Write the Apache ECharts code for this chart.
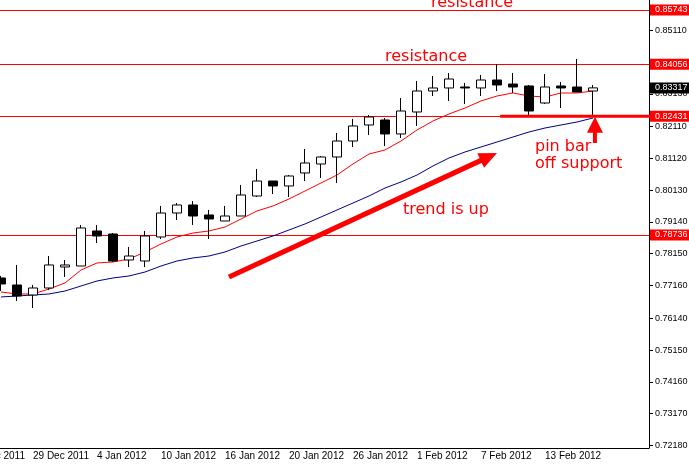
<!DOCTYPE html>
<html>
<head>
<meta charset="utf-8">
<title>EURUSD daily - pin bar off support</title>
<script src="https://cdn.jsdelivr.net/npm/echarts@6/dist/echarts.min.js"></script>
<style>
  html, body { margin: 0; padding: 0; background: #fff; }
  #main { width: 689px; height: 466px; }
</style>
</head>
<body>
<div id="main"></div>
<script>
// two days before the first visible bar (only their date label peeks in)
var leadDates = ['23 Dec 2011', '26 Dec 2011'];

var dates = ['27 Dec 2011', '28 Dec 2011', '29 Dec 2011', '30 Dec 2011', '2 Jan 2012', '3 Jan 2012',
  '4 Jan 2012', '5 Jan 2012', '6 Jan 2012', '9 Jan 2012', '10 Jan 2012', '11 Jan 2012', '12 Jan 2012',
  '13 Jan 2012', '16 Jan 2012', '17 Jan 2012', '18 Jan 2012', '19 Jan 2012', '20 Jan 2012', '23 Jan 2012',
  '24 Jan 2012', '25 Jan 2012', '26 Jan 2012', '27 Jan 2012', '30 Jan 2012', '31 Jan 2012', '1 Feb 2012',
  '2 Feb 2012', '3 Feb 2012', '6 Feb 2012', '7 Feb 2012', '8 Feb 2012', '9 Feb 2012', '10 Feb 2012',
  '13 Feb 2012', '14 Feb 2012', '15 Feb 2012', '16 Feb 2012'];

var opens = [0.77395, 0.77176, 0.76865, 0.77083, 0.77737, 0.77768, 0.78859, 0.78765, 0.77955, 0.77924,
  0.78672, 0.79419, 0.79669, 0.79357, 0.79170, 0.79326, 0.79949, 0.80416, 0.80261, 0.80666,
  0.80946, 0.81164, 0.81662, 0.82161, 0.82317, 0.81881, 0.82566, 0.83220, 0.83314, 0.83345,
  0.83314, 0.83563, 0.83438, 0.83376, 0.82846, 0.83376, 0.83345, 0.83220];
var closes = [0.77208, 0.76834, 0.77083, 0.77800, 0.77800, 0.78952, 0.78703, 0.77924, 0.78080, 0.78703,
  0.79419, 0.79669, 0.79326, 0.79233, 0.79326, 0.79980, 0.80416, 0.80261, 0.80572, 0.80977,
  0.81164, 0.81662, 0.82130, 0.82410, 0.81881, 0.82597, 0.83220, 0.83314, 0.83594, 0.83314,
  0.83563, 0.83407, 0.83345, 0.82597, 0.83345, 0.83314, 0.83189, 0.83317];
var lows = [0.76989, 0.76678, 0.76460, 0.77021, 0.77426, 0.77768, 0.78485, 0.77893, 0.77737, 0.77737,
  0.78609, 0.79201, 0.79046, 0.78609, 0.79170, 0.79326, 0.79918, 0.80011, 0.79918, 0.80416,
  0.80510, 0.80354, 0.81476, 0.81849, 0.81507, 0.81756, 0.82130, 0.83064, 0.82909, 0.82815,
  0.83064, 0.83220, 0.83158, 0.82472, 0.82815, 0.82691, 0.83189, 0.82440];
var highs = [0.77457, 0.77800, 0.77176, 0.78080, 0.77955, 0.79046, 0.79046, 0.78796, 0.78360, 0.78859,
  0.79638, 0.79731, 0.79793, 0.79513, 0.79638, 0.80292, 0.80790, 0.80416, 0.80603, 0.81413,
  0.81195, 0.81912, 0.82348, 0.82472, 0.82379, 0.83002, 0.83532, 0.83687, 0.83781, 0.83469,
  0.83719, 0.84056, 0.83781, 0.83407, 0.83750, 0.83500, 0.84217, 0.83407];

// moving averages as drawn on the chart
var maFast = [0.76958, 0.76896, 0.76896, 0.77052, 0.77239, 0.77644, 0.77862, 0.77893, 0.77986, 0.78204,
  0.78454, 0.78672, 0.78796, 0.78859, 0.78983, 0.79233, 0.79482, 0.79638, 0.79856, 0.80105,
  0.80354, 0.80603, 0.80946, 0.81257, 0.81382, 0.81662, 0.82005, 0.82286, 0.82504, 0.82691,
  0.82909, 0.83064, 0.83158, 0.83064, 0.83033, 0.83158, 0.83158, 0.83220];
var maSlow = [0.76803, 0.76834, 0.76865, 0.76896, 0.76989, 0.77145, 0.77301, 0.77395, 0.77457, 0.77581,
  0.77768, 0.77924, 0.78018, 0.78080, 0.78204, 0.78391, 0.78547, 0.78703, 0.78890, 0.79077,
  0.79295, 0.79513, 0.79731, 0.79949, 0.80198, 0.80385, 0.80603, 0.80884, 0.81133, 0.81320,
  0.81476, 0.81631, 0.81787, 0.81943, 0.82067, 0.82161, 0.82254, 0.82379];

// horizontal support / resistance levels
var levels = [0.85743, 0.84056, 0.82431, 0.78736];

// price scale labels
var yTicks = [0.72180, 0.73170, 0.74160, 0.75150, 0.76140, 0.77160, 0.78150, 0.79140,
  0.80130, 0.81120, 0.82110, 0.83130, 0.84120, 0.85110];
var yMin = 0.72098, yMax = 0.86055;

var tail = ['', '', ''];
var categories = leadDates.concat(dates, tail);
var off = leadDates.length;

function pad(arr) {
  return leadDates.map(function () { return '-'; }).concat(arr);
}
var candles = dates.map(function (d, i) {
  return [opens[i], closes[i], lows[i], highs[i]];
});
var lastPrice = closes[closes.length - 1];

function showLabel(index, value) {
  return index % 4 === 0 && value !== '';
}

var red = '#ff0000';
var navy = '#000080';

var chart = echarts.init(document.getElementById('main'));

var option = {
  animation: false,
  backgroundColor: '#ffffff',
  textStyle: { fontFamily: '"Liberation Sans", Arial, sans-serif' },
  grid: { left: -39, right: 40, top: 0, bottom: 18, outerBoundsMode: 'none', containLabel: false },
  xAxis: {
    type: 'category',
    data: categories,
    boundaryGap: true,
    axisLine: { onZero: false, lineStyle: { color: '#000', width: 1 } },
    axisTick: { interval: showLabel, alignWithLabel: true, length: 4, lineStyle: { color: '#000' } },
    axisLabel: { interval: showLabel, align: 'left', margin: 3, fontSize: 10, color: '#000' },
    splitLine: { show: false }
  },
  yAxis: {
    type: 'value',
    position: 'right',
    min: yMin,
    max: yMax,
    axisLine: { show: true, lineStyle: { color: '#000', width: 1 } },
    axisTick: { show: true, customValues: yTicks, length: 4, lineStyle: { color: '#000' } },
    axisLabel: {
      customValues: yTicks,
      formatter: function (v) { return Number(v).toFixed(5); },
      margin: 6, fontSize: 9, color: '#000'
    },
    splitLine: { show: false }
  },
  series: [
    {
      type: 'candlestick',
      data: pad(candles),
      barWidth: 9,
      z: 3,
      silent: true,
      itemStyle: {
        color: '#ffffff', color0: '#000000',
        borderColor: '#000000', borderColor0: '#000000', borderWidth: 1
      },
      emphasis: { disabled: true },
      markLine: {
        z: 1,
        silent: true,
        animation: false,
        precision: 5,
        symbol: ['none', 'none'],
        lineStyle: { color: red, width: 1, type: 'solid' },
        label: {
          position: 'end', distance: 1,
          formatter: function (p) { return Number(p.value).toFixed(5); },
          color: '#fff', backgroundColor: red, fontSize: 9, lineHeight: 11,
          padding: [0, 3, 0, 5]
        },
        emphasis: { disabled: true },
        data: levels.map(function (v) { return { yAxis: v }; }).concat([{
          // last price tag: no line, black box
          yAxis: lastPrice,
          lineStyle: { color: 'rgba(0,0,0,0)', width: 0 },
          label: { backgroundColor: '#000', color: '#fff' }
        }])
      }
    },
    {
      type: 'line',
      data: pad(maFast),
      symbol: 'none',
      z: 2,
      silent: true,
      lineStyle: { color: red, width: 1 }
    },
    {
      type: 'line',
      data: pad(maSlow),
      symbol: 'none',
      z: 2,
      silent: true,
      lineStyle: { color: navy, width: 1 }
    }
  ]
};
chart.setOption(option);

// position helper: bar index (fractional allowed) + price -> pixel
function pt(bar, price) {
  var a = chart.convertToPixel({ gridIndex: 0 }, [off, price]);
  var b = chart.convertToPixel({ gridIndex: 0 }, [off + 1, price]);
  return [a[0] + (b[0] - a[0]) * bar, a[1]];
}

function arrow(from, to, width, headLen, headHalf) {
  var dx = to[0] - from[0], dy = to[1] - from[1];
  var len = Math.sqrt(dx * dx + dy * dy);
  var ux = dx / len, uy = dy / len;
  var bx = to[0] - ux * headLen, by = to[1] - uy * headLen;
  return [
    {
      type: 'line', z: 20, silent: true,
      shape: { x1: from[0], y1: from[1], x2: bx + ux, y2: by + uy },
      style: { stroke: red, lineWidth: width }
    },
    {
      type: 'polygon', z: 20, silent: true,
      shape: { points: [to, [bx - uy * headHalf, by + ux * headHalf], [bx + uy * headHalf, by - ux * headHalf]] },
      style: { fill: red }
    }
  ];
}

function label(text, bar, price) {
  var p = pt(bar, price);
  return {
    type: 'text', z: 20, silent: true,
    style: {
      text: text, x: p[0], y: p[1] - 5,
      fill: red, font: '16px "DejaVu Sans"',
      align: 'left', verticalAlign: 'middle'
    }
  };
}

var sup = levels[2];
var g = [];
// thicker support segment under the last bars
var s1 = pt(31.2, sup), s2 = pt(40.6, sup);
g.push({
  type: 'line', z: 19, silent: true,
  shape: { x1: s1[0], y1: s1[1], x2: s2[0], y2: s2[1] },
  style: { stroke: red, lineWidth: 3 }
});
g = g.concat(arrow(pt(14.25, 0.77426), pt(31.0, 0.81289), 5, 18, 8));
g = g.concat(arrow(pt(37.12, 0.81600), pt(37.12, 0.82420), 4, 16, 8));
g.push(label('resistance', 26.875, 0.85806));
g.push(label('resistance', 24.0, 0.84124));
g.push(label('trend is up', 25.125, 0.79357));
g.push(label('pin bar', 33.375, 0.81320));
g.push(label('off support', 33.375, 0.80790));

chart.setOption({ graphic: g });
</script>
</body>
</html>
